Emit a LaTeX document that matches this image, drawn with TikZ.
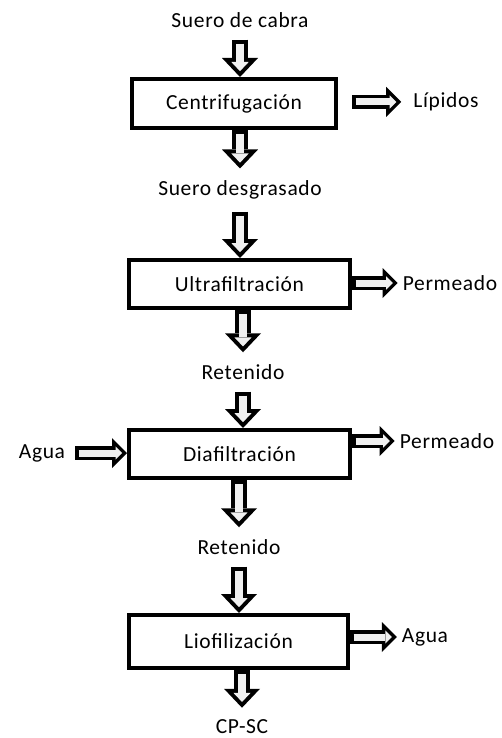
\documentclass[tikz,border=0pt]{standalone}
\usepackage{fontspec}
\setmainfont{Carlito}[LetterSpace=3]
\usepackage{tikz}
\usetikzlibrary{arrows.meta}
\usetikzlibrary{positioning}

\tikzset{
	texto/.style={inner xsep=5pt, inner ysep=12pt, font=\fontsize{21.5}{26}\selectfont},
	caja/.style={draw, rectangle, line width=4pt, inner sep=0pt, font=\fontsize{21.5}{26}\selectfont},
	baja/.style={line width=16pt, -{Triangle[length=19pt, width=36pt, line width=0pt]},
		postaction={draw=gray!12, line width=8pt, shorten <=4pt, shorten >=5.81pt,
		-{Triangle[length=9.19pt, width=17.4pt, line width=0pt]}}},
	lado/.style={line width=14pt, -{Triangle[length=15pt, width=30pt, line width=0pt]},
		postaction={draw=gray!12, line width=7pt, shorten <=3.5pt, shorten >=4.95pt,
		-{Triangle[length=6.55pt, width=13.1pt, line width=0pt]}}}
}

\begin{document}
\begin{tikzpicture}[x=1pt, y=-1pt]
			\useasboundingbox (0,0) rectangle (502,738);
			\node[texto] (SC) at (240,20) {Suero de cabra};
			\node[caja, minimum width=204, minimum height=49, outer xsep=16pt] (Cen) at (234,103.5) {Centrifugación};
			\draw [baja] (SC) -- (SC |- Cen.north);
			\node[texto, inner xsep=12pt] (Lip) at (446,102) {Lípidos};
			\draw [lado] (Cen.east |- Lip) -- (Lip);
			\node[texto] (SD) at (240,190) {Suero desgrasado};
			\draw [baja] (SD |- Cen.south) -- (SD);
			\node[caja, minimum width=221, minimum height=48] (Ult) at (239.5,284) {Ultrafiltración};
			\draw [baja] (SD) -- (SD |- Ult.north);
			\node[texto] (Per1) at (450,283) {Permeado};
			\draw [lado] (Ult.east |- Per1) -- (Per1);
			\node[texto] (Ret1) at (243,372) {Retenido};
			\draw [baja] (Ret1 |- Ult.south) -- (Ret1);
			\node[caja, minimum width=221, minimum height=48] (Dia) at (239.5,454) {Diafiltración};
			\draw [baja] (Ret1) -- (Ret1 |- Dia.north);
			\node[texto, inner xsep=10pt] (Ag1) at (42,453) {Agua};
			\draw [lado] (Ag1) -- (Ag1 -| Dia.west);
			\node[texto] (Per2) at (447,441) {Permeado};
			\draw [lado] (Dia.east |- Per2) -- (Per2);
			\node[texto] (Ret2) at (239,547) {Retenido};
			\draw [baja] (Ret2 |- Dia.south) -- (Ret2);
			\node[caja, minimum width=219, minimum height=53] (Lio) at (238.5,641.5) {Liofilización};
			\draw [baja] (Ret2) -- (Ret2 |- Lio.north);
			\node[texto] (Ag2) at (425,637) {Agua};
			\draw [lado] (Lio.east |- Ag2) -- (Ag2);
			\node[texto] (CP) at (242,727) {CP-SC};
			\draw [baja] (CP |- Lio.south) -- (CP);
		\end{tikzpicture}
\end{document}
